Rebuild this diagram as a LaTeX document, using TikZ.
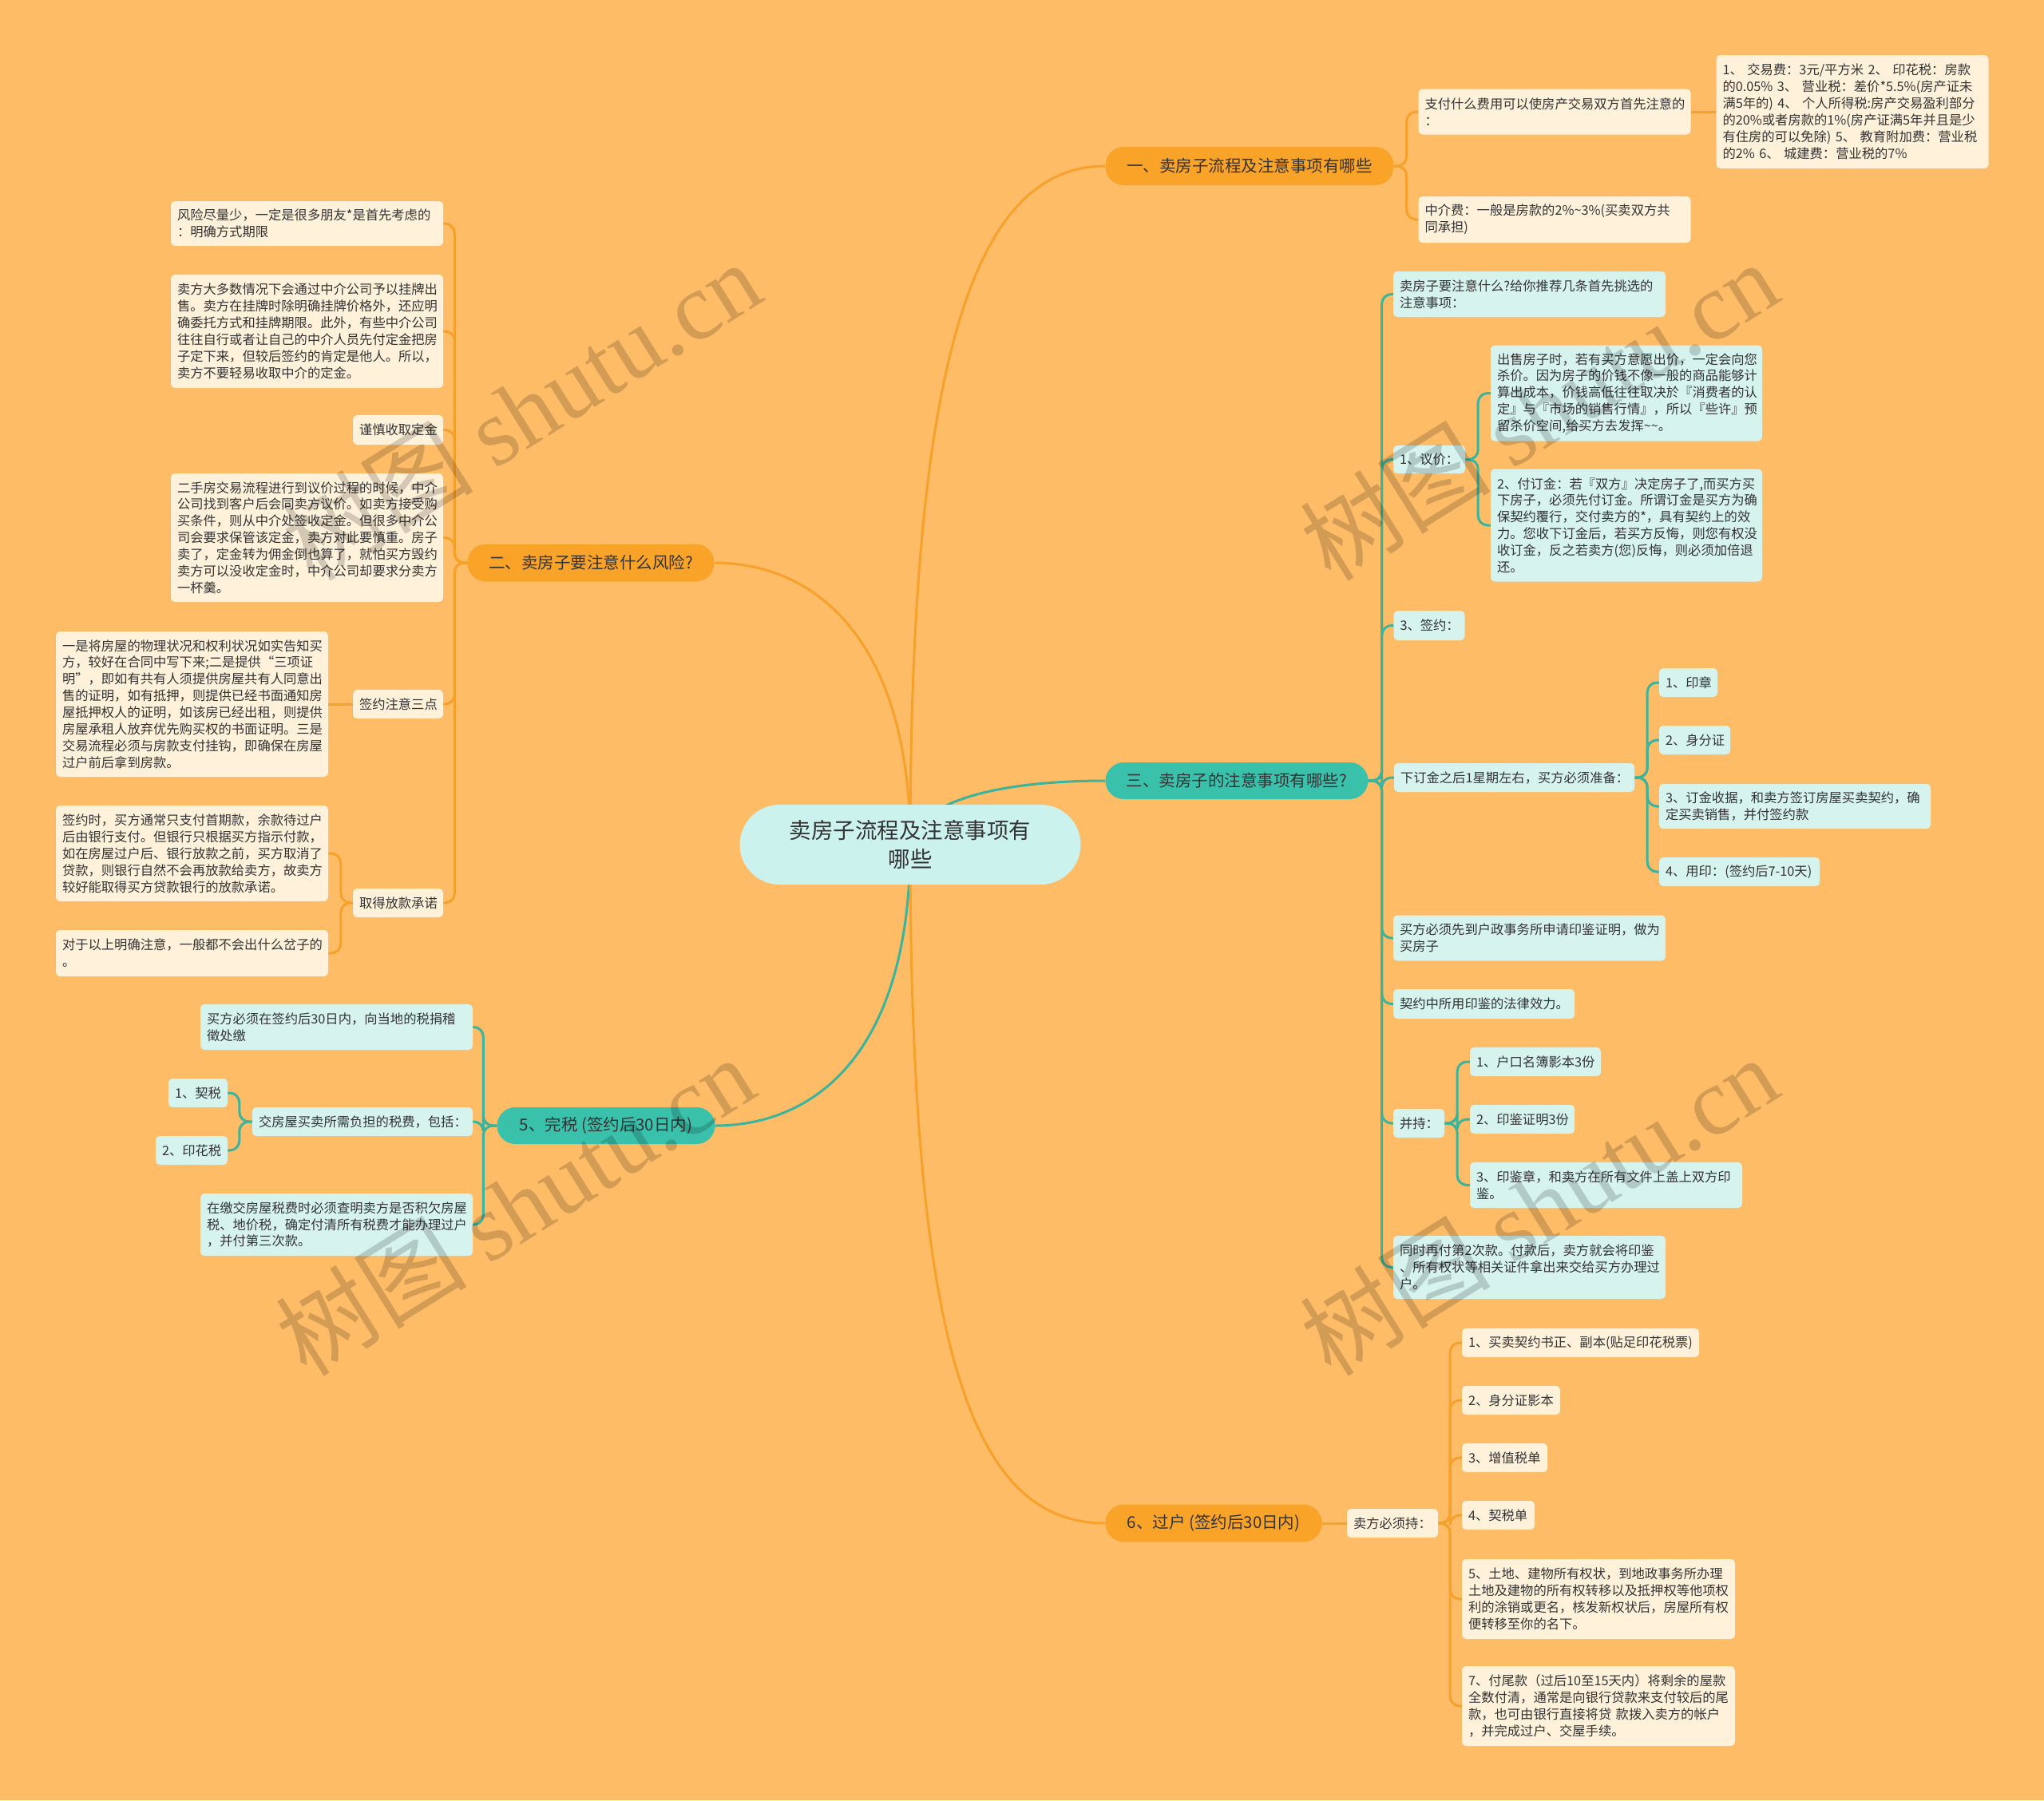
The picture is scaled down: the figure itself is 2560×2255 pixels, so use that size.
\documentclass[tikz,border=0pt]{standalone}
\usepackage{fontspec}
\setmainfont{Noto Sans CJK SC}
\newfontfamily\wmlatin{Liberation Serif}
\definecolor{bgc}{HTML}{FEBC67}
\definecolor{cream}{HTML}{FFF1DA}
\definecolor{cyanf}{HTML}{D6F3EE}
\definecolor{centerf}{HTML}{CCF2EE}
\definecolor{opillc}{HTML}{F9A428}
\definecolor{tpillc}{HTML}{3AC1AC}
\definecolor{olinec}{HTML}{F7A12A}
\definecolor{tlinec}{HTML}{3AB49C}
\definecolor{txt}{HTML}{333333}
\pgfdeclarelayer{bg}
\pgfdeclarelayer{edges}
\pgfsetlayers{bg,edges,main}
\begin{document}
\begin{tikzpicture}[x=1pt,y=-1pt,
  every node/.style={font=\fontsize{16.3}{20.9}\selectfont, text=txt},
  card/.style={rounded corners=5pt, inner xsep=8pt, inner ysep=0pt, align=left, anchor=center},
  oc/.style={card, fill=cream},
  tc/.style={card, fill=cyanf},
  pill/.style={inner sep=0pt, align=center, font=\fontsize{20.5}{24}\selectfont, rounded corners=23pt},
  opill/.style={pill, fill=opillc},
  tpill/.style={pill, fill=tpillc},
  oline/.style={draw=olinec, line width=3pt},
  tline/.style={draw=tlinec, line width=3pt},
  obr/.style={oline, rounded corners=12pt},
  tbr/.style={tline, rounded corners=12pt},
  wm/.style={rotate=32, opacity=0.17, text=black, font=\fontsize{120}{120}\selectfont, inner sep=0pt}
]
\useasboundingbox (0,0) rectangle (2560,2255);
\begin{pgfonlayer}{bg}
\fill[bgc] (0,0) rectangle (2560,2255);
\end{pgfonlayer}

% centre
\node[fill=centerf, rounded corners=50pt, minimum width=427pt, minimum height=100pt, inner sep=0pt, align=center, font=\fontsize{27.5}{36}\selectfont] (c) at (1140,1058) {卖房子流程及注意事项有\\哪些};

% main branches
\node[opill, minimum width=361pt, minimum height=48pt] (b1) at (1565,208) {一、卖房子流程及注意事项有哪些};
\node[opill, minimum width=309pt, minimum height=47pt] (b2) at (740,705) {二、卖房子要注意什么风险?};
\node[tpill, minimum width=329pt, minimum height=46pt] (b3) at (1549,978) {三、卖房子的注意事项有哪些?};
\node[tpill, minimum width=273pt, minimum height=46pt] (b5) at (759,1410) {5、完税~(签约后30日内)};
\node[opill, minimum width=271pt, minimum height=47pt] (b6) at (1520,1908) {6、过户~(签约后30日内)};

% branch 1
\node[oc, minimum width=341pt, text width=325pt, minimum height=57pt] (b1a) at (1947,140) {支付什么费用可以使房产交易双方首先注意的\\：};
\node[oc, minimum width=341pt, text width=325pt, minimum height=142pt] (b1a1) at (2320,140) {1、~交易费：3元/平方米~2、~印花税：房款\\的0.05\%~3、~营业税：差价*5.5\%(房产证未\\满5年的)~4、~个人所得税:房产交易盈利部分\\的20\%或者房款的1\%(房产证满5年并且是少\\有住房的可以免除)~5、~教育附加费：营业税\\的2\%~6、~城建费：营业税的7\%};
\node[oc, minimum width=341pt, text width=325pt, minimum height=58pt] (b1b) at (1947,275) {中介费：一般是房款的2\%\textasciitilde3\%(买卖双方共\\同承担)};

% branch 2
\node[oc, minimum width=341pt, text width=325pt, minimum height=56pt] (c1) at (384.5,280) {风险尽量少，一定是很多朋友*是首先考虑的\\：明确方式期限};
\node[oc, minimum width=341pt, text width=325pt, minimum height=142pt] (c2) at (384.5,415) {卖方大多数情况下会通过中介公司予以挂牌出\\售。卖方在挂牌时除明确挂牌价格外，还应明\\确委托方式和挂牌期限。此外，有些中介公司\\往往自行或者让自己的中介人员先付定金把房\\子定下来，但较后签约的肯定是他人。所以，\\卖方不要轻易收取中介的定金。};
\node[oc, minimum width=113pt, text width=97pt, minimum height=37pt] (c3) at (498.5,538.5) {谨慎收取定金};
\node[oc, minimum width=341pt, text width=325pt, minimum height=161pt] (c4) at (384.5,673.5) {二手房交易流程进行到议价过程的时候，中介\\公司找到客户后会同卖方议价。如卖方接受购\\买条件，则从中介处签收定金。但很多中介公\\司会要求保管该定金，卖方对此要慎重。房子\\卖了，定金转为佣金倒也算了，就怕买方毁约\\卖方可以没收定金时，中介公司却要求分卖方\\一杯羹。};
\node[oc, minimum width=113pt, text width=97pt, minimum height=36pt] (c5) at (498.5,882) {签约注意三点};
\node[oc, minimum width=341pt, text width=325pt, minimum height=182pt] (c5a) at (240.5,882) {一是将房屋的物理状况和权利状况如实告知买\\方，较好在合同中写下来;二是提供“三项证\\明”，即如有共有人须提供房屋共有人同意出\\售的证明，如有抵押，则提供已经书面通知房\\屋抵押权人的证明，如该房已经出租，则提供\\房屋承租人放弃优先购买权的书面证明。三是\\交易流程必须与房款支付挂钩，即确保在房屋\\过户前后拿到房款。};
\node[oc, minimum width=113pt, text width=97pt, minimum height=36pt] (c6) at (498.5,1131) {取得放款承诺};
\node[oc, minimum width=341pt, text width=325pt, minimum height=120pt] (c6a) at (240.5,1069) {签约时，买方通常只支付首期款，余款待过户\\后由银行支付。但银行只根据买方指示付款，\\如在房屋过户后、银行放款之前，买方取消了\\贷款，则银行自然不会再放款给卖方，故卖方\\较好能取得买方贷款银行的放款承诺。};
\node[oc, minimum width=341pt, text width=325pt, minimum height=58pt] (c6b) at (240.5,1194) {对于以上明确注意，一般都不会出什么岔子的\\。};

% branch 5
\node[tc, minimum width=341pt, text width=325pt, minimum height=57pt] (d1) at (421.5,1286.5) {买方必须在签约后30日内，向当地的税捐稽\\徵处缴};
\node[tc, minimum width=276pt, text width=260pt, minimum height=36pt] (d2) at (454,1405) {交房屋买卖所需负担的税费，包括：};
\node[tc, minimum width=74pt, text width=58pt, minimum height=36pt] (d2a) at (248,1369) {1、契税};
\node[tc, minimum width=90pt, text width=74pt, minimum height=36pt] (d2b) at (240,1441) {2、印花税};
\node[tc, minimum width=341pt, text width=325pt, minimum height=78pt] (d3) at (421.5,1534) {在缴交房屋税费时必须查明卖方是否积欠房屋\\税、地价税，确定付清所有税费才能办理过户\\，并付第三次款。};

% branch 3
\node[tc, minimum width=341pt, text width=325pt, minimum height=57pt] (e1) at (1915.5,368.5) {卖房子要注意什么?给你推荐几条首先挑选的\\注意事项：};
\node[tc, minimum width=90pt, text width=74pt, minimum height=35pt] (e2) at (1790,575.5) {1、议价：};
\node[tc, minimum width=340pt, text width=324pt, minimum height=120pt] (e2a) at (2037,492.5) {出售房子时，若有买方意愿出价，一定会向您\\杀价。因为房子的价钱不像一般的商品能够计\\算出成本，价钱高低往往取决於『消费者的认\\定』与『市场的销售行情』，所以『些许』预\\留杀价空间,给买方去发挥\textasciitilde\textasciitilde。};
\node[tc, minimum width=340pt, text width=324pt, minimum height=141pt] (e2b) at (2037,658) {2、付订金：若『双方』决定房子了,而买方买\\下房子，必须先付订金。所谓订金是买方为确\\保契约覆行，交付卖方的*，具有契约上的效\\力。您收下订金后，若买方反悔，则您有权没\\收订金，反之若卖方(您)反悔，则必须加倍退\\还。};
\node[tc, minimum width=89pt, text width=73pt, minimum height=37pt] (e3) at (1790,783.5) {3、签约：};
\node[tc, minimum width=301pt, text width=285pt, minimum height=36pt] (e4) at (1896.5,974) {下订金之后1星期左右，买方必须准备：};
\node[tc, minimum width=73pt, text width=57pt, minimum height=36pt] (e4a) at (2114.5,855) {1、印章};
\node[tc, minimum width=89pt, text width=73pt, minimum height=36pt] (e4b) at (2122.5,927) {2、身分证};
\node[tc, minimum width=340pt, text width=324pt, minimum height=56pt] (e4c) at (2248,1010) {3、订金收据，和卖方签订房屋买卖契约，确\\定买卖销售，并付签约款};
\node[tc, minimum width=201pt, text width=185pt, minimum height=36pt] (e4d) at (2178.5,1092) {4、用印：(签约后7-10天)};
\node[tc, minimum width=341pt, text width=325pt, minimum height=57pt] (e5) at (1915.5,1175) {买方必须先到户政事务所申请印鉴证明，做为\\买房子};
\node[tc, minimum width=227pt, text width=211pt, minimum height=37pt] (e6) at (1858.5,1257.5) {契约中所用印鉴的法律效力。};
\node[tc, minimum width=64pt, text width=48pt, minimum height=36pt] (e7) at (1777,1407) {并持：};
\node[tc, minimum width=164pt, text width=148pt, minimum height=36pt] (e7a) at (1923,1330) {1、户口名簿影本3份};
\node[tc, minimum width=131pt, text width=115pt, minimum height=36pt] (e7b) at (1906.5,1402) {2、印鉴证明3份};
\node[tc, minimum width=341pt, text width=325pt, minimum height=57pt] (e7c) at (2011.5,1484.5) {3、印鉴章，和卖方在所有文件上盖上双方印\\鉴。};
\node[tc, minimum width=341pt, text width=325pt, minimum height=79pt] (e8) at (1915.5,1587.5) {同时再付第2次款。付款后，卖方就会将印鉴\\、所有权状等相关证件拿出来交给买方办理过\\户。};

% branch 6
\node[oc, minimum width=114pt, text width=98pt, minimum height=36pt] (f0) at (1744,1908) {卖方必须持：};
\node[oc, minimum width=297pt, text width=281pt, minimum height=36pt] (f1) at (1979.5,1682) {1、买卖契约书正、副本(贴足印花税票)};
\node[oc, minimum width=123pt, text width=107pt, minimum height=36pt] (f2) at (1892.5,1754) {2、身分证影本};
\node[oc, minimum width=107pt, text width=91pt, minimum height=36pt] (f3) at (1884.5,1826) {3、增值税单};
\node[oc, minimum width=91pt, text width=75pt, minimum height=36pt] (f4) at (1876.5,1898) {4、契税单};
\node[oc, minimum width=342pt, text width=326pt, minimum height=100pt] (f5) at (2002,2003) {5、土地、建物所有权状，到地政事务所办理\\土地及建物的所有权转移以及抵押权等他项权\\利的涂销或更名，核发新权状后，房屋所有权\\便转移至你的名下。};
\node[oc, minimum width=342pt, text width=326pt, minimum height=100pt] (f6) at (2002,2137) {7、付尾款（过后10至15天内）将剩余的屋款\\全数付清，通常是向银行贷款来支付较后的尾\\款，也可由银行直接将贷~款拨入卖方的帐户\\，并完成过户、交屋手续。};

\begin{pgfonlayer}{edges}
% main curves
\draw[oline] (c.center) .. controls (1140,450) and (1220,208) .. (b1.west);
\draw[oline] (c.center) .. controls (1140,800) and (1020,705) .. (b2.east);
\draw[tline] (c.center) .. controls (1150,1000) and (1260,978) .. (b3.west);
\draw[tline] (c.center) .. controls (1140,1320) and (1020,1410) .. (b5.east);
\draw[oline] (c.center) .. controls (1140,1700) and (1220,1908) .. (b6.west);
% branch 1
\foreach \n in {b1a,b1b} \draw[obr] (b1.east) -- ++(16,0) |- (\n.west);
\draw[oline] (b1a.east) -- (b1a1.west);
% branch 2
\foreach \n in {c1,c2,c3,c4,c5,c6} \draw[obr] (b2.west) -- ++(-16,0) |- (\n.east);
\draw[oline] (c5.west) -- (c5a.east);
\foreach \n in {c6a,c6b} \draw[obr] (c6.west) -- ++(-15,0) |- (\n.east);
% branch 5
\foreach \n in {d1,d2,d3} \draw[tbr] (b5.west) -- ++(-17,0) |- (\n.east);
\foreach \n in {d2a,d2b} \draw[tbr] (d2.west) -- ++(-16,0) |- (\n.east);
% branch 3
\foreach \n in {e1,e2,e3,e4,e5,e6,e7,e8} \draw[tbr] (b3.east) -- ++(17,0) |- (\n.west);
\foreach \n in {e2a,e2b} \draw[tbr] (e2.east) -- ++(16,0) |- (\n.west);
\foreach \n in {e4a,e4b,e4c,e4d} \draw[tbr] (e4.east) -- ++(16,0) |- (\n.west);
\foreach \n in {e7a,e7b,e7c} \draw[tbr] (e7.east) -- ++(16,0) |- (\n.west);
% branch 6
\draw[oline] (b6.east) -- (f0.west);
\foreach \n in {f1,f2,f3,f4,f5,f6} \draw[obr] (f0.east) -- ++(15,0) |- (\n.west);
\end{pgfonlayer}

% watermarks
\node[wm] (wm1) at (653,514) {树图~{\wmlatin shutu.cn}};
\node[wm] (wm2) at (1927,514) {树图~{\wmlatin shutu.cn}};
\node[wm] (wm3) at (645,1510) {树图~{\wmlatin shutu.cn}};
\node[wm] (wm4) at (1927,1510) {树图~{\wmlatin shutu.cn}};
\end{tikzpicture}
\end{document}
